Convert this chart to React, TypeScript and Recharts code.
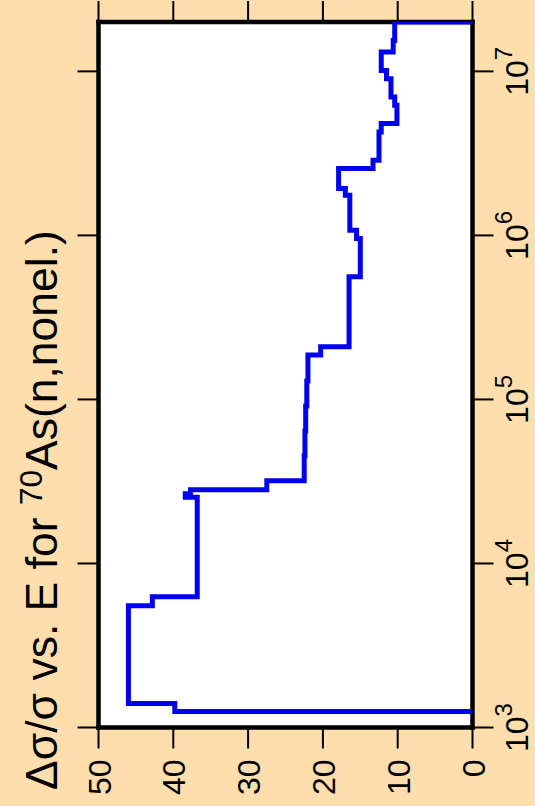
import React from 'react';
import { ScatterChart, Scatter, XAxis, YAxis, CartesianGrid } from 'recharts';

// Energy group boundaries (eV) and relative uncertainty Δσ/σ (%) per group
const energyEdges = [
  1000, 1251, 1400, 5531, 6275, 25320, 26590, 28120, 31890, 45290, 64300,
  91290, 129600, 186600, 209700, 559300, 958000, 1076000, 1759000, 1931000,
  2557000, 2872000, 4271000, 4804000, 6209000, 6975000, 9030000, 10140000,
  13110000, 15440000, 20000000,
];
const relUncertainty = [
  0, 39.8, 46.0, 42.8, 36.8, 38.4, 37.7, 27.5, 22.5, 22.4, 22.3, 22.15, 22.0,
  20.3, 16.5, 15.0, 15.5, 16.4, 17.0, 17.9, 13.3, 12.5, 12.2, 10.1, 10.4, 10.9,
  11.5, 12.2, 10.6, 10.4,
];
const valueTicks = [0, 10, 20, 30, 40, 50];
const energyTicks = [1e3, 1e4, 1e5, 1e6, 1e7];
const energyDomain = [1000, 20000000];
const valueDomain = [0, 50];

// build step points (group-wise constant)
const points: { e: number; v: number }[] = [];
points.push({ e: energyEdges[1], v: relUncertainty[0] });
for (let i = 1; i < relUncertainty.length; i++) {
  points.push({ e: energyEdges[i], v: relUncertainty[i] });
  points.push({ e: energyEdges[i + 1], v: relUncertainty[i] });
}
points.push({ e: energyEdges[energyEdges.length - 1], v: 0 });

const FONT = 'Liberation Sans, Arial, Helvetica, sans-serif';
const BG = '#FFDEAD';
const axisLineStyle = { stroke: '#000', strokeWidth: 4.5, strokeLinecap: 'square' as const };
const tickLineStyle = { stroke: '#000', strokeWidth: 2 };

const BottomTick = (props: any) => {
  const { x, y, payload } = props;
  return (
    <text
      transform={`translate(${x + 12}, ${y + 9}) rotate(-90)`}
      textAnchor="end"
      fontSize={32}
      fontFamily={FONT}
      fill="#000"
    >
      {payload.value}
    </text>
  );
};

const RightTick = (props: any) => {
  const { x, y, payload } = props;
  const exp = Math.round(Math.log10(payload.value));
  return (
    <text
      transform={`translate(${x + 32.5}, ${y}) rotate(-90)`}
      textAnchor="middle"
      fontSize={32}
      fontFamily={FONT}
      fill="#000"
    >
      <tspan>10</tspan>
      <tspan dy={-16} fontSize={24}>
        {exp}
      </tspan>
    </text>
  );
};

const EmptyTick = () => <g />;

export default function App() {
  return (
    <div
      style={{
        position: 'absolute',
        left: 0,
        top: 0,
        width: 535,
        height: 806,
        background: BG,
        overflow: 'hidden',
      }}
    >
      <ScatterChart
        width={535}
        height={806}
        margin={{ top: 0, right: 0, bottom: 0, left: 0 }}
      >
        <CartesianGrid fill="#fff" horizontal={false} vertical={false} stroke="none" />
        <XAxis
          type="number"
          dataKey="v"
          orientation="bottom"
          height={78.5}
          domain={valueDomain}
          ticks={valueTicks}
          reversed
          allowDataOverflow
          axisLine={axisLineStyle}
          tickLine={tickLineStyle}
          tickSize={21}
          tick={<BottomTick />}
          interval={0}
        />
        <XAxis
          xAxisId="top"
          type="number"
          dataKey="v"
          orientation="top"
          height={22}
          domain={valueDomain}
          ticks={valueTicks}
          reversed
          allowDataOverflow
          axisLine={axisLineStyle}
          tickLine={tickLineStyle}
          tickSize={21}
          tick={<EmptyTick />}
          interval={0}
        />
        <YAxis
          type="number"
          dataKey="e"
          orientation="right"
          width={62.5}
          scale="log"
          domain={energyDomain}
          ticks={energyTicks}
          allowDataOverflow
          axisLine={axisLineStyle}
          tickLine={tickLineStyle}
          tickSize={21}
          tick={<RightTick />}
          interval={0}
        />
        <YAxis
          yAxisId="left"
          type="number"
          dataKey="e"
          orientation="left"
          width={98.5}
          scale="log"
          domain={energyDomain}
          ticks={energyTicks}
          allowDataOverflow
          axisLine={axisLineStyle}
          tickLine={tickLineStyle}
          tickSize={21}
          tick={<EmptyTick />}
          interval={0}
        />
        <Scatter
          data={points}
          fill="#0000EE"
          stroke="#0000EE"
          strokeWidth={5}
          line={{ stroke: '#0000EE', strokeWidth: 5, fill: 'none' }}
          lineJointType="linear"
          shape={() => <g />}
          isAnimationActive={false}
        />
      </ScatterChart>
      <svg
        width={535}
        height={806}
        style={{ position: 'absolute', left: 0, top: 0, pointerEvents: 'none' }}
      >
        <text
          transform="translate(57, 790) rotate(-90)"
          fontSize={44.5}
          fontFamily={FONT}
          fill="#000"
        >
          <tspan>Δσ/σ vs. E for </tspan>
          <tspan fontSize={31.5} dy={-15}>70</tspan>
          <tspan dy={15}>As(n,nonel.)</tspan>
        </text>
      </svg>
    </div>
  );
}
